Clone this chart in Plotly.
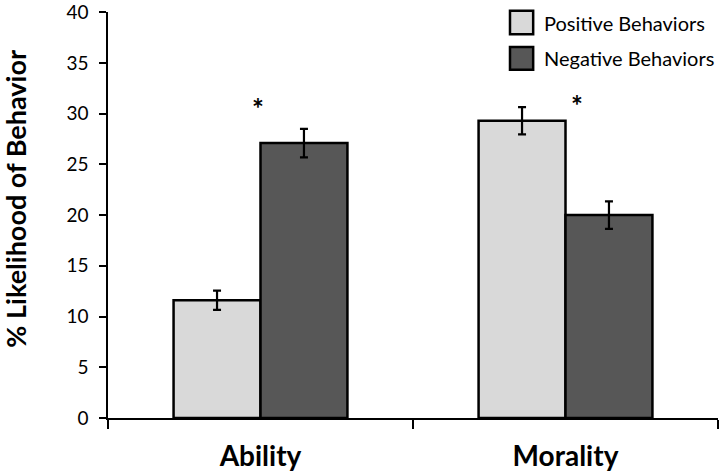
import plotly.graph_objects as go

# Data
categories = ["Ability", "Morality"]
series_names = ["Positive Behaviors", "Negative Behaviors"]
positive = [11.6, 29.3]
positive_err = [0.95, 1.35]
negative = [27.1, 20.0]
negative_err = [1.4, 1.35]
star_y = [30.6, 30.9]

colors = ["#d9d9d9", "#575757"]

fig = go.Figure()

for name, vals, errs, col in zip(series_names, [positive, negative],
                                 [positive_err, negative_err], colors):
    fig.add_trace(go.Bar(
        x=categories, y=vals, name=name,
        marker=dict(color=col, line=dict(color="black", width=2.5)),
        error_y=dict(type="data", array=errs, color="black", thickness=2.2, width=4),
    ))

# significance stars
for i, cat in enumerate(categories):
    fig.add_annotation(x=cat, y=star_y[i], text="<b>*</b>", showarrow=False,
                       xshift=-3 if i == 0 else 11,
                       font=dict(size=28, color="black", family="Lato"))

# legend drawn by hand (bigger swatches than plotly's)
legend_y = [(0.945, 1.003, 0.974), (0.858, 0.914, 0.887)]
for name, col, (y0, y1, yt) in zip(series_names, colors, legend_y):
    fig.add_shape(type="rect", xref="paper", yref="paper",
                  x0=0.659, x1=0.697, y0=y0, y1=y1,
                  fillcolor=col, line=dict(color="black", width=2.5))
    fig.add_annotation(xref="paper", yref="paper", x=0.711, y=yt, text=name,
                       xanchor="left", yanchor="middle", showarrow=False,
                       font=dict(size=20, family="Lato", color="black"))

# y axis title
fig.add_annotation(xref="paper", yref="paper", x=-0.151, y=0.54,
                   text="<b>% Likelihood of Behavior</b>", textangle=-90,
                   showarrow=False, xanchor="center", yanchor="middle",
                   font=dict(size=27, family="Lato", color="black"))

fig.update_layout(
    width=720, height=475,
    barmode="group", bargap=0.43, bargroupgap=0,
    plot_bgcolor="white", paper_bgcolor="white",
    margin=dict(l=108, r=2, t=12, b=57, autoexpand=False),
    font=dict(family="Lato", color="black"),
    showlegend=False,
)
fig.update_xaxes(
    type="category", showline=True, linecolor="black", linewidth=1.5,
    ticks="outside", tickson="boundaries", ticklen=9, tickcolor="black", tickwidth=1.5,
    tickfont=dict(size=28, family="Lato", color="black"), automargin=False,
    tickprefix="<b>", ticksuffix="</b>", ticklabelstandoff=13,
)
fig.update_yaxes(
    range=[0, 40.02], dtick=5, showline=True, linecolor="black", linewidth=1.5,
    ticks="outside", ticklen=7, tickcolor="black", tickwidth=1.5,
    showgrid=False, zeroline=False, ticklabeloverflow="allow", automargin=False,
    tickfont=dict(size=19, family="Lato", color="black"), ticklabelstandoff=7,
)

fig.write_html("out.html", config={"displayModeBar": False},
               post_script="document.body.style.margin='0';")
